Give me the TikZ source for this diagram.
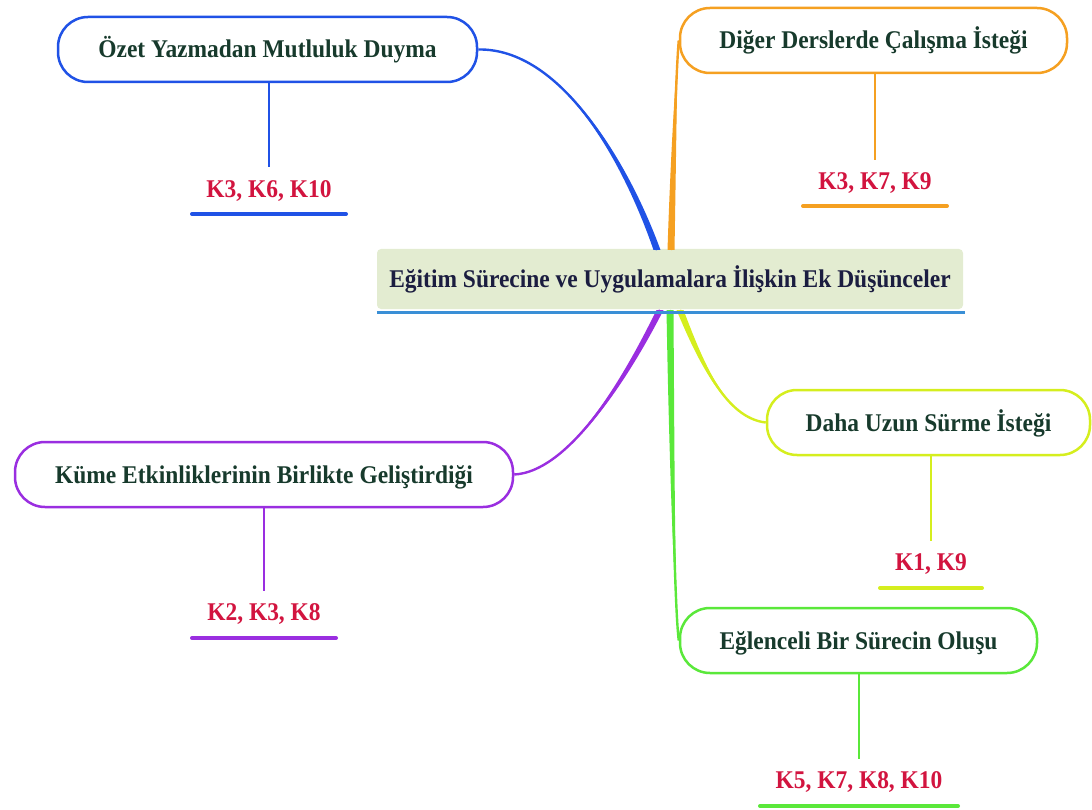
\documentclass[tikz,border=0pt]{standalone}
\usepackage{fontspec}
\setmainfont[FakeStretch=0.92]{Liberation Serif}
\definecolor{cblue}{HTML}{2052E6}
\definecolor{corange}{HTML}{F5A021}
\definecolor{cyellow}{HTML}{D5EE1E}
\definecolor{cgreen}{HTML}{5AE83A}
\definecolor{cpurple}{HTML}{9A2EE0}
\definecolor{ccrimson}{HTML}{D2143F}
\definecolor{ctext}{HTML}{173A2C}
\definecolor{cnavy}{HTML}{1B1D40}
\definecolor{cfill}{HTML}{E3ECD1}
\definecolor{cline}{HTML}{3A8FD6}
\tikzset{
  txt/.style={font=\fontsize{25.5}{30}\selectfont\bfseries},
  branch/.style={txt, draw=#1, line width=2.5pt, rounded corners=30pt, text=ctext,
    text height=17pt, text depth=0pt, minimum height=65pt, inner sep=0pt, fill=white},
  klabel/.style={txt, text=ccrimson, anchor=base, inner sep=0pt},
  stem/.style={draw=#1, line width=1.5pt},
  uline/.style={draw=#1, line width=4pt, line cap=round},
}
\newcommand{\taper}[5]{%
  \fill[#1] (#2) .. controls (#3) and ([xshift=-2.6pt]#4) .. ([xshift=-3.5pt]#5) -- ([xshift=3.5pt]#5) .. controls ([xshift=2.6pt]#4) and (#3) .. (#2) -- cycle;
  \draw[#1, line width=2.4pt] (#2) .. controls (#3) and (#4) .. (#5);
}
\begin{document}
\begin{tikzpicture}[x=1pt,y=-1pt]
\useasboundingbox (0,0) rectangle (1092,810);

% central node
\node[txt, text=cnavy, fill=cfill, rounded corners=4pt, minimum width=586pt, minimum height=60pt,
  text height=17pt, text depth=0pt, inner sep=0pt] (center) at (670,279)
  {Eğitim Sürecine ve Uygulamalara İlişkin Ek Düşünceler};

\coordinate (cb) at (657,250);
\coordinate (co) at (671,250);
\coordinate (cp) at (660,310);
\coordinate (cg) at (670,310);
\coordinate (cy) at (680,310);

% branches
\node[branch=cblue, minimum width=419pt] (b1) at (267.5,49.5) {Özet Yazmadan Mutluluk Duyma};
\node[branch=corange, minimum width=387pt] (b2) at (873.5,40.5) {Diğer Derslerde Çalışma İsteği};
\node[branch=cyellow, minimum width=323pt] (b3) at (928.5,422.5) {Daha Uzun Sürme İsteği};
\node[branch=cgreen, minimum width=357pt] (b4) at (858.5,640.5) {Eğlenceli Bir Sürecin Oluşu};
\node[branch=cpurple, minimum width=498pt] (b5) at (264,474.5) {Küme Etkinliklerinin Birlikte Geliştirdiği};

% curved connectors
\taper{cblue}{b1.east}{560,48}{625,160}{cb}
\taper{corange}{b2.west}{677,60}{674,130}{co}
\taper{cyellow}{b3.west}{725,418}{700,360}{cy}
\taper{cgreen}{b4.west}{675,610}{672,480}{cg}
\taper{cpurple}{b5.east}{565,472}{620,390}{cp}

\draw[cline, line width=3pt] ([yshift=-3pt]center.south west) -- ([yshift=-3pt,xshift=2pt]center.south east);

% labels
\node[klabel] (l1) at (269,198) {K3, K6, K10};
\node[klabel] (l2) at (875,190) {K3, K7, K9};
\node[klabel] (l3) at (931,570) {K1, K9};
\node[klabel] (l4) at (859,788) {K5, K7, K8, K10};
\node[klabel] (l5) at (264,620) {K2, K3, K8};

% stems
\draw[stem=cblue] (b1.south -| l1) -- ([yshift=14pt]l1.north);
\draw[stem=corange] (b2.south -| l2) -- ([yshift=13pt]l2.north);
\draw[stem=cyellow] (b3.south -| l3) -- ([yshift=12pt]l3.north);
\draw[stem=cgreen] (b4.south -| l4) -- ([yshift=12pt]l4.north);
\draw[stem=cpurple] (b5.south -| l5) -- ([yshift=12pt]l5.north);

% underlines
\draw[uline=cblue] ([xshift=-77pt,yshift=-16pt]l1.base) -- ([xshift=77pt,yshift=-16pt]l1.base);
\draw[uline=corange] ([xshift=-72pt,yshift=-16pt]l2.base) -- ([xshift=72pt,yshift=-16pt]l2.base);
\draw[uline=cyellow] ([xshift=-51pt,yshift=-18pt]l3.base) -- ([xshift=51pt,yshift=-18pt]l3.base);
\draw[uline=cgreen] ([xshift=-99pt,yshift=-18pt]l4.base) -- ([xshift=99pt,yshift=-18pt]l4.base);
\draw[uline=cpurple] ([xshift=-72pt,yshift=-18pt]l5.base) -- ([xshift=72pt,yshift=-18pt]l5.base);
\end{tikzpicture}
\end{document}
